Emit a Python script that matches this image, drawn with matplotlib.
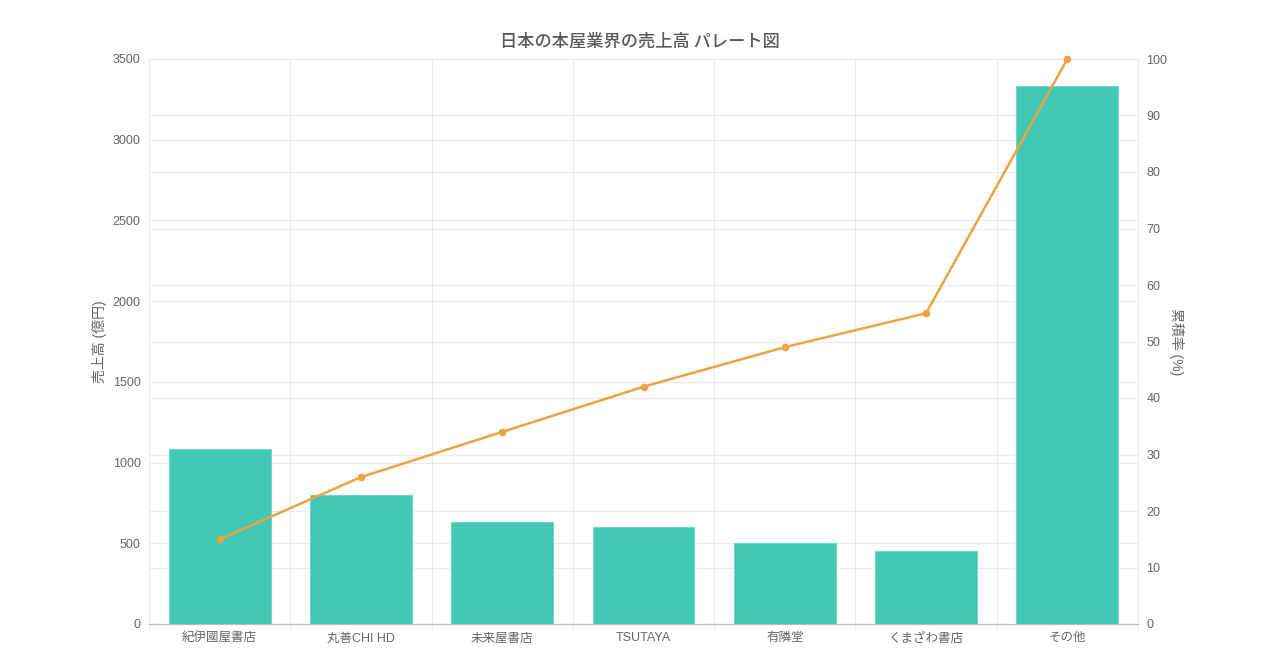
import matplotlib

matplotlib.use("Agg")

import matplotlib.pyplot as plt
import numpy as np

plt.rcParams["font.family"] = ["Liberation Sans", "Noto Sans CJK JP", "DejaVu Sans"]

# data
stores = ["紀伊國屋書店", "丸善CHI HD", "未来屋書店", "TSUTAYA", "有隣堂", "くまざわ書店", "その他"]
sales = [1085, 800, 630, 600, 500, 450, 3335]
cumulative = [15, 26, 34, 42, 49, 55, 100]

BAR_COLOR = "#42c8b4"
LINE_COLOR = "#eaa443"
GRID_COLOR = "#ebebeb"
TEXT_COLOR = "#666666"

fig = plt.figure(figsize=(12.8, 6.7), dpi=100)
ax = fig.add_axes([149 / 1280, 46 / 670, (1138 - 149) / 1280, (624 - 59) / 670])
ax2 = ax.twinx()

# bars sit above the right-axis grid, line sits above the bars
ax2.set_zorder(0)
ax.set_zorder(1)
ax.patch.set_visible(False)
ax_line = ax.twinx()
ax_line.set_zorder(2)
ax_line.patch.set_visible(False)

x = np.arange(len(stores))
ax.bar(x, sales, width=0.72, color=BAR_COLOR, edgecolor="#6fd8c8", linewidth=0.8, zorder=2)
ax_line.plot(x, cumulative, color=LINE_COLOR, linewidth=1.8, marker="o", markersize=4.5, clip_on=False)

ax.set_xlim(-0.5, len(stores) - 0.5)
ax.set_ylim(0, 3500)
ax.set_yticks(np.arange(0, 3501, 500))
for a in (ax2, ax_line):
    a.set_ylim(0, 100)
ax2.set_yticks(np.arange(0, 101, 10))
ax_line.set_yticks([])
for s in ax_line.spines.values():
    s.set_visible(False)

ax.set_xticks(x)
ax.set_xticklabels(stores)
ax.set_xticks(np.arange(-0.5, len(stores), 1), minor=True)

ax.grid(True, axis="y", color=GRID_COLOR, linewidth=0.8, zorder=0)
ax.grid(True, axis="x", which="minor", color=GRID_COLOR, linewidth=0.8, zorder=0)
ax2.grid(True, axis="y", color=GRID_COLOR, linewidth=0.8, zorder=0)
ax.set_axisbelow(True)

for a in (ax, ax2):
    for side in ("top", "left", "right"):
        a.spines[side].set_color(GRID_COLOR)
    a.spines["bottom"].set_color("#bbbbbb")
    a.tick_params(colors=TEXT_COLOR, labelsize=9, length=0, pad=6)
ax.tick_params(axis="x", which="minor", length=6, color=GRID_COLOR)
ax.tick_params(axis="x", which="major", pad=6)

ax.set_ylabel("売上高 (億円)", color=TEXT_COLOR, fontsize=10, labelpad=4)
ax2.set_ylabel("累積率 (%)", color=TEXT_COLOR, fontsize=10, rotation=-90, labelpad=12)

fig.text(0.5, 1 - 42 / 670, "日本の本屋業界の売上高 パレート図", ha="center", va="center",
         fontsize=12.4, color="#5a5a5a", fontweight="medium",
         family=["Noto Sans CJK JP", "DejaVu Sans"])

fig.savefig("out.png", dpi=100, facecolor="white")
plt.close(fig)
